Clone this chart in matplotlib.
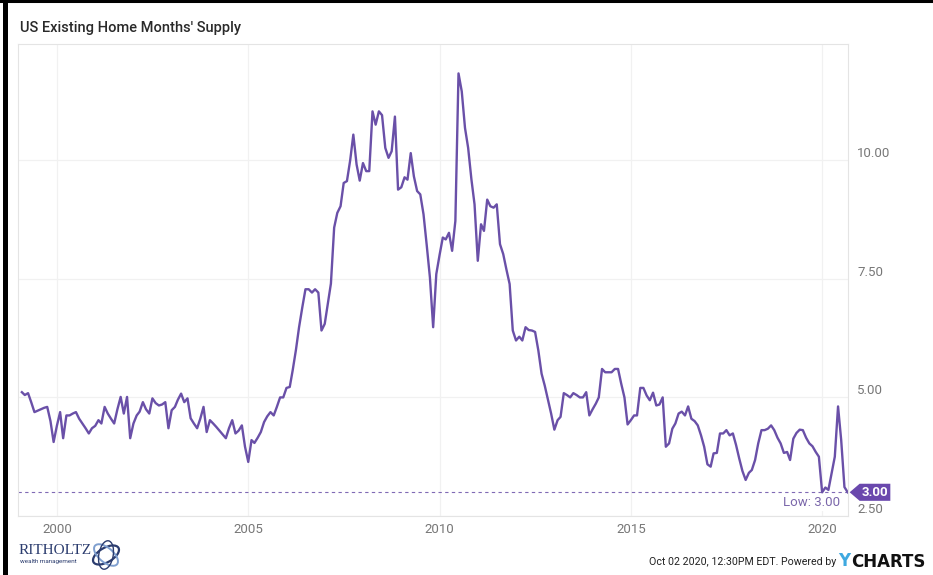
import pandas as pd
import numpy as np
import matplotlib.pyplot as plt
from matplotlib.lines import Line2D
from matplotlib.patches import Polygon, Ellipse
import matplotlib.transforms as mtransforms

# --- data: US existing home months' supply, monthly Jan 1999 - Aug 2020 ---
supply = [
    5.11, 5.05, 5.09, 4.90, 4.69, 4.72, 4.75, 4.78, 4.80, 4.50, 4.06, 4.40,   # 1999
    4.69, 4.14, 4.62, 4.62, 4.66, 4.69, 4.55, 4.45, 4.35, 4.24, 4.35, 4.40,   # 2000
    4.52, 4.45, 4.80, 4.66, 4.55, 4.45, 4.75, 5.01, 4.66, 5.01, 4.14, 4.45,   # 2001
    4.62, 4.70, 4.90, 4.75, 4.66, 4.98, 4.88, 4.83, 4.85, 4.90, 4.35, 4.73,   # 2002
    4.80, 4.95, 5.08, 4.90, 4.98, 4.56, 4.45, 4.35, 4.55, 4.80, 4.27, 4.52,   # 2003
    4.45, 4.38, 4.30, 4.22, 4.14, 4.35, 4.52, 4.24, 4.30, 4.41, 3.96, 3.64,   # 2004
    4.10, 4.04, 4.15, 4.27, 4.48, 4.60, 4.69, 4.62, 4.80, 5.00, 5.00, 5.20,   # 2005
    5.22, 5.57, 6.00, 6.48, 6.90, 7.28, 7.28, 7.21, 7.28, 7.21, 6.41, 6.55,   # 2006
    7.00, 7.40, 8.58, 8.89, 9.03, 9.52, 9.56, 10.00, 10.54, 9.91, 9.57, 9.94, # 2007
    9.77, 9.77, 11.03, 10.75, 11.03, 10.95, 10.26, 10.05, 10.19, 10.92, 9.38, 9.43,  # 2008
    9.64, 9.59, 10.15, 9.66, 9.35, 9.28, 8.86, 8.20, 7.53, 6.48, 7.60, 8.00,  # 2009
    8.37, 8.33, 8.47, 8.09, 8.72, 11.83, 11.45, 10.68, 10.26, 9.60, 9.07, 7.88,  # 2010
    8.65, 8.51, 9.17, 9.03, 9.00, 9.07, 8.23, 8.02, 7.70, 7.39, 6.41, 6.20,   # 2011
    6.28, 6.20, 6.48, 6.42, 6.41, 6.38, 5.99, 5.50, 5.25, 4.95, 4.66, 4.32,   # 2012
    4.52, 4.59, 5.09, 5.05, 5.00, 5.09, 5.05, 5.00, 5.00, 5.11, 4.62, 4.75,   # 2013
    4.87, 5.00, 5.60, 5.53, 5.53, 5.53, 5.60, 5.60, 5.29, 5.00, 4.43, 4.52,   # 2014
    4.62, 4.62, 5.20, 5.20, 5.04, 4.94, 5.10, 4.83, 4.85, 5.00, 3.96, 4.03,   # 2015
    4.34, 4.45, 4.66, 4.70, 4.62, 4.81, 4.55, 4.50, 4.41, 4.20, 3.96, 3.59,   # 2016
    3.54, 3.82, 3.83, 4.24, 4.24, 4.31, 4.20, 4.24, 4.00, 3.71, 3.45, 3.26,   # 2017
    3.41, 3.47, 3.68, 4.03, 4.31, 4.31, 4.34, 4.41, 4.31, 4.15, 4.03, 3.83,   # 2018
    3.85, 3.68, 4.13, 4.25, 4.32, 4.31, 4.15, 4.03, 3.97, 3.85, 3.75, 3.00,   # 2019
    3.10, 3.05, 3.40, 3.75, 4.81, 4.10, 3.11, 3.00,                           # 2020
]
dates = pd.date_range("1999-01-31", periods=len(supply), freq="ME")

ytick_vals = [2.5, 5.0, 7.5, 10.0]
ytick_labels = ["2.50", "5.00", "7.50", "10.00"]
xtick_years = [2000, 2005, 2010, 2015, 2020]

LINE = "#6a50a8"
TAG = "#6a48ad"
FONT = ["Liberation Sans Narrow", "Roboto", "DejaVu Sans"]
plt.rcParams["font.family"] = FONT

W, H = 933, 575
fig = plt.figure(figsize=(W / 100, H / 100), dpi=100)
fig.patch.set_facecolor("white")

ax = fig.add_axes([18 / W, 1 - 516 / H, (848 - 18) / W, (516 - 44) / H])
ax.plot(dates, supply, color=LINE, lw=1.7, solid_joinstyle="round")

ax.set_xlim(pd.Timestamp("1998-12-25"), dates[-1] + pd.Timedelta(days=3))
ax.set_ylim(2.5, 12.45)

ax.set_xticks([pd.Timestamp(f"{y}-01-01") for y in xtick_years])
ax.set_xticklabels([str(y) for y in xtick_years])
ax.set_yticks(ytick_vals)
ax.set_yticklabels(ytick_labels)
ax.yaxis.tick_right()
ax.tick_params(axis="both", length=0, labelsize=9.5, colors="#777777")
ax.tick_params(axis="y", pad=6.5)
ax.tick_params(axis="x", pad=5)
for lab in ax.get_yticklabels():
    lab.set_va("bottom")

ax.grid(True, color="#f1f1f1", lw=0.9)
for s in ax.spines.values():
    s.set_color("#e4e4e4")
    s.set_linewidth(0.8)

# low line and labels
low = min(supply)
ax.axhline(low, color=LINE, lw=0.8, ls=(0, (3, 3)), alpha=0.85)
ax.annotate(f"Low: {low:.2f}", xy=(0.99, low), xycoords=("axes fraction", "data"),
            xytext=(0, -3), textcoords="offset points", ha="right", va="top",
            fontsize=9.5, color="#7a66aa",
            bbox=dict(boxstyle="square,pad=0.15", fc="white", ec="none"))

trans = mtransforms.blended_transform_factory(ax.transAxes, ax.transData)
last = supply[-1]
h = 0.18
tag = Polygon([(1.002, last), (1.014, last + h), (1.051, last + h),
               (1.051, last - h), (1.014, last - h)],
              closed=True, transform=trans, clip_on=False, fc=TAG, ec="none")
ax.add_patch(tag)
ax.text(1.0325, last, f"{last:.2f}", transform=trans, ha="center", va="center",
        color="white", fontsize=9.5, fontweight="bold", clip_on=False)

# title
fig.text(20 / W, 1 - 28 / H, "US Existing Home Months' Supply", va="center",
         ha="left", fontsize=10.5, color="#2a2a2a", fontweight="medium")

# footer
fig.text(836 / W, 1 - 562 / H, "Oct 02 2020, 12:30PM EDT. Powered by", ha="right",
         va="center", fontsize=7.7, color="#222222")
fig.text(838 / W, 1 - 561 / H, "Y", ha="left", va="center", fontsize=12,
         color="#3fa9e0", fontweight="bold", family="DejaVu Sans")
fig.text(926 / W, 1 - 562 / H, "CHARTS", ha="right", va="center", fontsize=12,
         color="#111111", fontweight="bold", family="DejaVu Sans")

fig.text(19 / W, 1 - 550 / H, "RITHOLTZ", ha="left", va="center", fontsize=11,
         color="#2b3c6e", family=["Liberation Serif", "DejaVu Serif"])
fig.text(20 / W, 1 - 561 / H, "wealth management", ha="left", va="center",
         fontsize=4.5, color="#2b3c6e")
logo = fig.add_axes([90 / W, 1 - 571 / H, 32 / W, 32 / H])
logo.set_xlim(-1, 1)
logo.set_ylim(-1, 1)
logo.axis("off")
for ang, col, wd in [(30, "#2b3c6e", 1.6), (-40, "#7f9fcf", 1.4), (80, "#2b3c6e", 1.0)]:
    logo.add_patch(Ellipse((0, 0), 1.8, 0.9, angle=ang, fill=False, ec=col, lw=wd))

# outer black frame (left and top)
fig.add_artist(Line2D([4.5 / W, 4.5 / W], [0, 1], color="black", lw=3.6))
fig.add_artist(Line2D([0, 1], [1 - 1.2 / H, 1 - 1.2 / H], color="black", lw=2.2))

fig.savefig("out.png", dpi=100)
